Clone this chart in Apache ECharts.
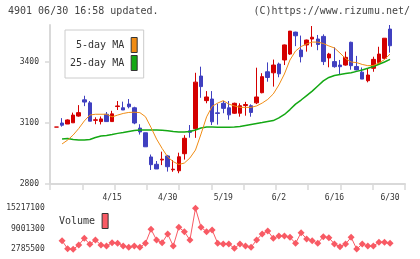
<!DOCTYPE html>
<html>
<head>
<meta charset="utf-8">
<title>4901</title>
<script src="https://cdn.jsdelivr.net/npm/echarts@6/dist/echarts.min.js"></script>
<style>
  html, body { margin: 0; padding: 0; background: #fff; }
  #main { width: 420px; height: 259px; }
</style>
</head>
<body>
<div id="main"></div>
<script>
// trading days (one slot per candle)
var dates = [
  '4/1', '4/2', '4/3', '4/4', '4/7', '4/8', '4/9', '4/10', '4/11', '4/14',
  '4/15', '4/16', '4/17', '4/18', '4/21', '4/22', '4/23', '4/24', '4/25', '4/28',
  '4/30', '5/1', '5/2', '5/7', '5/8', '5/9', '5/12', '5/13', '5/14', '5/15',
  '5/19', '5/20', '5/21', '5/22', '5/23', '5/26', '5/27', '5/28', '5/29', '5/30',
  '6/2', '6/3', '6/4', '6/5', '6/6', '6/9', '6/10', '6/11', '6/12', '6/13',
  '6/16', '6/17', '6/18', '6/19', '6/20', '6/23', '6/24', '6/25', '6/26', '6/27',
  '6/30'
];
var dateTicks = ['4/15', '4/30', '5/19', '6/2', '6/16', '6/30'];

var opens = [
  3080, 3100, 3095, 3101, 3134, 3214, 3199, 3113, 3107, 3143,
  3107, 3181, 3175, 3193, 3175, 3075, 3052, 2933, 2897, 2918,
  2938, 2870, 2865, 2949, 3062, 3072, 3331, 3210, 3218, 3150,
  3197, 3175, 3148, 3148, 3186, 3185, 3199, 3249, 3352, 3347,
  3390, 3410, 3439, 3547, 3459, 3484, 3513, 3513, 3526, 3420,
  3402, 3385, 3385, 3497, 3378, 3350, 3308, 3369, 3397, 3418,
  3562
];
var closes = [
  3080, 3089, 3115, 3139, 3151, 3203, 3109, 3116, 3120, 3107,
  3145, 3184, 3164, 3180, 3100, 3056, 2983, 2895, 2874, 2922,
  2885, 2873, 2934, 3025, 3054, 3301, 3279, 3228, 3106, 3147,
  3172, 3140, 3197, 3185, 3191, 3152, 3228, 3328, 3324, 3385,
  3342, 3484, 3552, 3529, 3426, 3508, 3522, 3486, 3402, 3439,
  3377, 3377, 3423, 3382, 3361, 3316, 3336, 3413, 3439, 3517,
  3480
];
var lows = [
  3080, 3082, 3095, 3101, 3131, 3183, 3109, 3094, 3093, 3107,
  3107, 3164, 3164, 3172, 3094, 3043, 2983, 2869, 2874, 2893,
  2861, 2860, 2853, 2920, 3028, 3027, 3224, 3197, 3090, 3092,
  3148, 3116, 3145, 3131, 3136, 3131, 3193, 3246, 3303, 3279,
  3325, 3385, 3435, 3478, 3398, 3451, 3475, 3458, 3385, 3374,
  3372, 3336, 3382, 3362, 3359, 3316, 3300, 3352, 3385, 3413,
  3446
];
var highs = [
  3080, 3124, 3118, 3151, 3188, 3234, 3208, 3128, 3132, 3154,
  3160, 3208, 3205, 3218, 3180, 3094, 3052, 2945, 2913, 2959,
  2943, 2918, 2954, 3040, 3090, 3347, 3377, 3257, 3257, 3195,
  3208, 3208, 3200, 3197, 3204, 3192, 3372, 3345, 3398, 3412,
  3397, 3486, 3552, 3549, 3530, 3510, 3577, 3533, 3536, 3445,
  3472, 3410, 3451, 3500, 3430, 3373, 3369, 3426, 3475, 3518,
  3582
];

var ma5 = [
  null, 2997, 3016, 3041, 3073, 3110, 3139, 3143, 3143, 3143,
  3130, 3139, 3147, 3152, 3153, 3151, 3131, 3078, 3021, 2975,
  2933, 2910, 2896, 2903, 2928, 2967, 3046, 3130, 3182, 3198,
  3210, 3193, 3184, 3177, 3177, 3177, 3184, 3198, 3216, 3243,
  3287, 3341, 3410, 3454, 3476, 3489, 3498, 3498, 3491, 3479,
  3469, 3444, 3417, 3400, 3397, 3388, 3382, 3383, 3395, 3412,
  3439
];
var ma25 = [
  null, 3021, 3024, 3019, 3016, 3016, 3019, 3029, 3036, 3039,
  3043, 3049, 3053, 3058, 3063, 3066, 3066, 3066, 3066, 3064,
  3062, 3058, 3056, 3056, 3058, 3066, 3075, 3080, 3080, 3079,
  3079, 3079, 3080, 3083, 3088, 3093, 3098, 3102, 3107, 3112,
  3125, 3142, 3166, 3193, 3213, 3235, 3257, 3282, 3307, 3324,
  3334, 3339, 3343, 3347, 3354, 3361, 3369, 3378, 3389, 3400,
  3413
];
var volumes = [
  null, 5390000, 2970000, 2785500, 4090000, 6120000, 4300000, 5610000, 4090000, 3790000,
  4790000, 4610000, 3790000, 3390000, 3790000, 3390000, 4610000, 8850000, 5610000, 4790000,
  7420000, 3790000, 9460000, 8120000, 5610000, 15217100, 9460000, 8120000, 8640000, 4610000,
  4390000, 4390000, 3090000, 4390000, 3790000, 3390000, 5610000, 7420000, 8340000, 6120000,
  6820000, 6820000, 6420000, 4610000, 7820000, 5910000, 5390000, 4610000, 6610000, 6300000,
  4390000, 3570000, 4390000, 6420000, 2850000, 4390000, 3790000, 3790000, 4910000, 4910000,
  4610000
];

var priceTicks = [2800, 3100, 3400];
var priceMax = 3582;
var volTicks = [2785500, 9001300, 15217100];

var candles = dates.map(function (d, i) {
  return [opens[i], closes[i], lows[i], highs[i]];
});

var mono = 'DejaVu Sans Mono';
var axisGray = '#d9d9d9';
var up = '#d40000';
var down = '#4040c0';
var volRed = '#f85a64';

function plain(v) { return String(v); }

var myChart = echarts.init(document.getElementById('main'));

var option = {
  animation: false,
  title: [
    {
      text: '4901 06/30 16:58 updated.', left: 8, top: 6, padding: 0,
      textStyle: { fontFamily: mono, fontSize: 10, fontWeight: 'normal', color: '#444' }
    },
    {
      text: '(C)https://www.rizumu.net/', right: 10, top: 6, padding: 0,
      textStyle: { fontFamily: mono, fontSize: 10, fontWeight: 'normal', color: '#444' }
    }
  ],
  legend: [
    {
      data: ['5-day MA', '25-day MA'],
      orient: 'vertical', left: 65, top: 30, align: 'right',
      padding: [7, 6, 7, 5], itemGap: 2, itemWidth: 6, itemHeight: 15,
      icon: 'rect', selectedMode: false,
      backgroundColor: '#fff', borderColor: '#ccc', borderWidth: 1,
      itemStyle: { borderColor: '#333', borderWidth: 1 },
      formatter: function (name) { return name.padStart(9); },
      textStyle: { fontFamily: mono, fontSize: 10, color: '#333', padding: [0, 2, 0, 0] }
    },
    {
      data: ['Volume'],
      left: 59, top: 213, padding: 0, align: 'right',
      itemWidth: 6, itemHeight: 15, icon: 'rect', selectedMode: false,
      itemStyle: { borderColor: '#333', borderWidth: 1 },
      textStyle: { fontFamily: mono, fontSize: 10, color: '#333', padding: [0, 2, 0, 0] }
    }
  ],
  grid: [
    { left: 50, top: 25, width: 355, height: 159 },
    { left: 53.72, top: 25, width: 339.1, height: 159 },
    { left: 53.72, top: 208.3, width: 339.1, height: 41 }
  ],
  xAxis: [
    {
      gridIndex: 0, type: 'value', min: 0, max: 11, interval: 1,
      axisLine: { lineStyle: { color: axisGray, width: 2 } },
      axisTick: { length: 6, lineStyle: { color: axisGray, width: 1.5 } },
      axisLabel: { show: false },
      splitLine: { show: false }
    },
    {
      gridIndex: 1, type: 'category', data: dates, boundaryGap: true,
      axisLine: { show: false },
      axisTick: { show: false },
      axisLabel: {
        interval: function (idx, value) { return dateTicks.indexOf(value) >= 0; },
        margin: 10, fontFamily: mono, fontSize: 8, color: '#333'
      },
      splitLine: { show: false }
    },
    { gridIndex: 2, type: 'category', data: dates, boundaryGap: true, show: false }
  ],
  yAxis: [
    {
      gridIndex: 0, type: 'value', min: priceTicks[0], max: priceMax,
      axisLine: { show: true, lineStyle: { color: axisGray, width: 2 } },
      axisTick: { show: true, length: 5, customValues: priceTicks, lineStyle: { color: axisGray, width: 1.5 } },
      axisLabel: { customValues: priceTicks, formatter: plain, margin: 11, fontFamily: mono, fontSize: 8, color: '#333' },
      splitLine: { show: false }
    },
    { gridIndex: 1, type: 'value', min: priceTicks[0], max: priceMax, show: false },
    {
      gridIndex: 2, type: 'value', min: volTicks[0], max: volTicks[2],
      axisLine: { show: false },
      axisTick: { show: false },
      axisLabel: { customValues: volTicks, formatter: plain, margin: 9, fontFamily: mono, fontSize: 8, color: '#333' },
      splitLine: { show: false }
    }
  ],
  series: [
    {
      name: '25-day MA', type: 'line', xAxisIndex: 1, yAxisIndex: 1,
      data: ma25, symbol: 'none', color: '#14a814',
      lineStyle: { width: 1.5, color: '#14a814' }
    },
    {
      name: '5-day MA', type: 'line', xAxisIndex: 1, yAxisIndex: 1,
      data: ma5, symbol: 'none', color: '#f08c14',
      lineStyle: { width: 1, color: '#f08c14' }
    },
    {
      name: 'Price', type: 'candlestick', xAxisIndex: 1, yAxisIndex: 1,
      data: candles, barWidth: 4,
      itemStyle: {
        color: up, color0: down,
        borderColor: up, borderColor0: down, borderColorDoji: up,
        borderWidth: 1
      }
    },
    {
      name: 'Volume', type: 'line', xAxisIndex: 2, yAxisIndex: 2,
      data: volumes, symbol: 'diamond', symbolSize: 7, showAllSymbol: true,
      color: volRed,
      lineStyle: { width: 1, color: volRed },
      itemStyle: { color: volRed }
    }
  ]
};

myChart.setOption(option);
</script>
</body>
</html>
